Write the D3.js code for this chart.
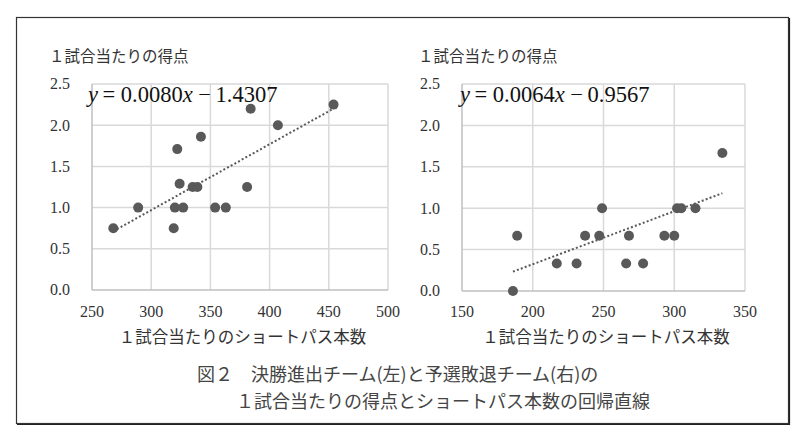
<!DOCTYPE html>
<html><head><meta charset="utf-8">
<script src="https://cdn.jsdelivr.net/npm/d3@7"></script>
<style>body{margin:0;background:#fff}svg{display:block}
.serif{font-family:"Liberation Serif","Times New Roman","DejaVu Serif",serif}
.cjk{font-family:"Noto Sans CJK JP",sans-serif}
</style>
</head><body>
<svg id="c" width="800" height="440"></svg>
<script>
// ---- data ----
const leftX = [268,289,319,320,327,322,324,335,339,342,354,363,381,384,407,454];
const leftY = [0.75,1.0,0.75,1.0,1.0,1.71,1.29,1.25,1.25,1.86,1.0,1.0,1.25,2.2,2.0,2.25];
const rightX = [186,189,217,231,237,247,249,266,268,278,293,300,302,305,315,334];
const rightY = [0,0.667,0.333,0.333,0.667,0.667,1.0,0.333,0.667,0.333,0.667,0.667,1.0,1.0,1.0,1.667];
const leftCoef = [0.0080, -1.4307];
const rightCoef = [0.0064, -0.9567];
const leftXTicks = [250,300,350,400,450,500];
const rightXTicks = [150,200,250,300,350];
const yTicks = [0,0.5,1.0,1.5,2.0,2.5];
const yTitle = "１試合当たりの得点";
const xTitle = "１試合当たりのショートパス本数";
const leftEq = ["0.0080", "1.4307"];
const rightEq = ["0.0064", "0.9567"];
const caption1 = "図２　決勝進出チーム(左)と予選敗退チーム(右)の";
const caption2 = "１試合当たりの得点とショートパス本数の回帰直線";

const svg = d3.select("#c");

// outer frame
svg.append("rect").attr("x",16.5).attr("y",17.5).attr("width",772).attr("height",406)
  .attr("fill","none").attr("stroke","#333").attr("stroke-width",1.2);
svg.append("path").attr("d","M789.5,18 V424.5 H17").attr("fill","none").attr("stroke","#222").attr("stroke-width",1.2);

function panel(xs, ys, coef, xTicks, xr, yr, eq, titleX, eqX) {
  const x = d3.scaleLinear().domain([xTicks[0], xTicks[xTicks.length-1]]).range(xr);
  const y = d3.scaleLinear().domain([0, 2.5]).range(yr);
  const g = svg.append("g");
  // gridlines
  g.selectAll(".gx").data(xTicks.slice(1)).join("line")
    .attr("x1",d=>x(d)).attr("x2",d=>x(d)).attr("y1",yr[0]).attr("y2",yr[1])
    .attr("stroke","#d9d9d9").attr("stroke-width",1.5);
  g.selectAll(".gy").data(yTicks.slice(1)).join("line")
    .attr("y1",d=>y(d)).attr("y2",d=>y(d)).attr("x1",xr[0]).attr("x2",xr[1])
    .attr("stroke","#d9d9d9").attr("stroke-width",1.5);
  // axes lines
  g.append("line").attr("x1",xr[0]).attr("x2",xr[0]).attr("y1",yr[0]).attr("y2",yr[1])
    .attr("stroke","#bfbfbf").attr("stroke-width",1.5);
  g.append("line").attr("x1",xr[0]).attr("x2",xr[1]).attr("y1",yr[0]).attr("y2",yr[0])
    .attr("stroke","#bfbfbf").attr("stroke-width",1.5);
  // tick labels
  g.selectAll(".ty").data(yTicks).join("text").attr("class","serif")
    .attr("x", xr[0]-22).attr("y", d=>y(d)).attr("dy","0.34em")
    .attr("text-anchor","end").style("font-size","16px").attr("fill","#333")
    .text(d=>d3.format(".1f")(d));
  g.selectAll(".tx").data(xTicks).join("text").attr("class","serif")
    .attr("x", d=>x(d)).attr("y", 317)
    .attr("text-anchor","middle").style("font-size","16px").attr("fill","#333")
    .text(d=>d);
  // titles
  g.append("text").attr("class","cjk").attr("x", titleX).attr("y", 55).attr("dominant-baseline","central")
    .style("font-size","15.5px").attr("fill","#333").text(yTitle);
  g.append("text").attr("class","cjk").attr("x", (xr[0]+xr[1])/2+2.5).attr("y", 335.5).attr("dominant-baseline","central")
    .attr("text-anchor","middle").style("font-size","16.5px").attr("fill","#333").text(xTitle);
  // points
  const pts = xs.map((v,i)=>[v, ys[i]]);
  g.selectAll(".pt").data(pts).join("circle")
    .attr("cx",d=>x(d[0])).attr("cy",d=>y(d[1])).attr("r",5).attr("fill","#595959");
  // trendline
  const x0 = d3.min(xs), x1 = d3.max(xs);
  const line = d3.line().x(d=>x(d)).y(d=>y(coef[0]*d+coef[1]));
  g.append("path").attr("d", line([x0,x1])).attr("fill","none")
    .attr("stroke","#595959").attr("stroke-width",2).attr("stroke-dasharray","2,2.2");
  // equation
  const t = g.append("text").attr("class","serif").attr("x", eqX).attr("y", 102)
    .style("font-size","22.5px").attr("fill","#111");
  t.append("tspan").style("font-style","italic").text("y");
  t.append("tspan").text("\u2009= " + eq[0]);
  t.append("tspan").style("font-style","italic").text("x");
  t.append("tspan").text(" \u2212\u2009" + eq[1]);
}

panel(leftX, leftY, leftCoef, leftXTicks, [92,388], [290,84], leftEq, 49, 88);
panel(rightX, rightY, rightCoef, rightXTicks, [462,745], [291,84], rightEq, 418, 460);

svg.append("text").attr("class","cjk").attr("x",197).attr("y",373).attr("dominant-baseline","central")
  .style("font-size","18px").attr("fill","#444").text(caption1);
svg.append("text").attr("class","cjk").attr("x",236).attr("y",400).attr("dominant-baseline","central")
  .style("font-size","18px").attr("fill","#444").text(caption2);
</script>
</body></html>
